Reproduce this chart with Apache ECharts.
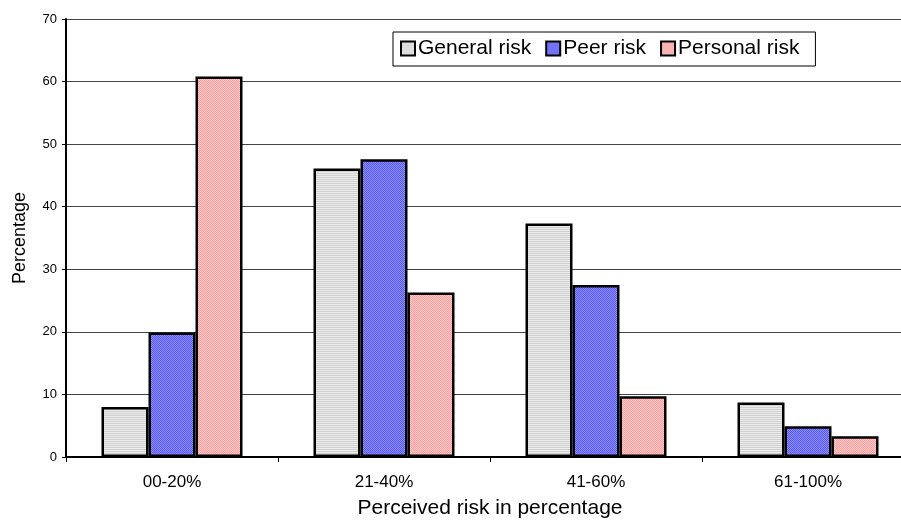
<!DOCTYPE html>
<html><head><meta charset="utf-8">
<script src="https://cdn.jsdelivr.net/npm/echarts@6/dist/echarts.min.js"></script>
<style>html,body{margin:0;padding:0;background:#fff}#c{width:901px;height:521px}</style>
</head><body><div id="c"></div>
<script>
var categories = ['00-20%', '21-40%', '41-60%', '61-100%'];
var generalRisk = [8.0, 46.1, 37.3, 8.7];
var peerRisk = [19.9, 47.6, 27.5, 4.9];
var personalRisk = [60.8, 26.3, 9.7, 3.3];
var seriesNames = ['General risk', 'Peer risk', 'Personal risk'];

function pattern(kind) {
  var c = document.createElement('canvas');
  c.width = 4; c.height = 4;
  var g = c.getContext('2d');
  if (kind === 0) {
    g.fillStyle = '#ececec'; g.fillRect(0,0,4,4);
    g.fillStyle = '#cfcfcf'; g.fillRect(0,1,4,1); g.fillRect(0,3,4,1);
  } else if (kind === 1) {
    g.fillStyle = '#8a8aff'; g.fillRect(0,0,4,4);
    g.fillStyle = '#5c5cf0'; g.fillRect(0,0,1,1); g.fillRect(2,0,1,1); g.fillRect(1,1,1,1); g.fillRect(3,1,1,1);
    g.fillRect(0,2,1,1); g.fillRect(2,2,1,1); g.fillRect(1,3,1,1); g.fillRect(3,3,1,1);
  } else {
    g.fillStyle = '#ffc4c4'; g.fillRect(0,0,4,4);
    g.fillStyle = '#f5a3a3'; g.fillRect(0,0,1,1); g.fillRect(2,0,1,1); g.fillRect(1,1,1,1); g.fillRect(3,1,1,1);
    g.fillRect(0,2,1,1); g.fillRect(2,2,1,1); g.fillRect(1,3,1,1); g.fillRect(3,3,1,1);
  }
  return {image: c, repeat: 'repeat'};
}
var legendColors = ['#e0e0e0', '#7a7aff', '#ffb3b3'];
var data = [generalRisk, peerRisk, personalRisk];
var chart = echarts.init(document.getElementById('c'), null, {renderer: 'canvas'});
var font = 'Liberation Sans, Arial, sans-serif';
chart.setOption({
  animation: false,
  textStyle: {fontFamily: font},
  grid: {left: 66, width: 848, top: 19, bottom: 64, containLabel: false, outerBoundsMode: 'none'},
  legend: {
    top: 32, left: 393, itemGap: 14, itemWidth: 14, itemHeight: 14,
    icon: 'rect',
    data: seriesNames.map(function (n, i) {
      return {name: n, itemStyle: {color: pattern(i), borderColor: '#000', borderWidth: 2}};
    }),
    borderColor: '#000', borderWidth: 1, padding: [6, 16, 7, 7],
    textStyle: {fontSize: 21, color: '#000', fontFamily: font, padding: [0, 0, 0, -2]}
  },
  xAxis: {
    type: 'category', data: categories,
    name: 'Perceived risk in percentage', nameLocation: 'middle', nameGap: 41,
    nameTextStyle: {fontSize: 21, color: '#000', fontFamily: font},
    axisLine: {lineStyle: {color: '#000', width: 2}},
    axisTick: {show: true, length: 5, lineStyle: {color: '#000'}},
    axisLabel: {fontSize: 17, color: '#000', margin: 17}
  },
  yAxis: {
    type: 'value', min: 0, max: 70, interval: 10,
    name: 'Percentage', nameLocation: 'middle', nameGap: 37, nameRotate: 90,
    nameTextStyle: {fontSize: 18, color: '#000', fontFamily: font},
    axisLine: {show: true, lineStyle: {color: '#000', width: 2}},
    axisTick: {show: true, length: 4, lineStyle: {color: '#000'}},
    axisLabel: {fontSize: 13, color: '#000', margin: 9},
    splitLine: {lineStyle: {color: '#444', width: 1}}
  },
  series: data.map(function (d, i) {
    return {
      name: seriesNames[i], type: 'bar', data: d,
      barWidth: 47, barGap: '0%',
      color: legendColors[i],
      itemStyle: {color: pattern(i), borderColor: '#000', borderWidth: 2.5},
      emphasis: {disabled: true}
    };
  })
});
</script></body></html>
